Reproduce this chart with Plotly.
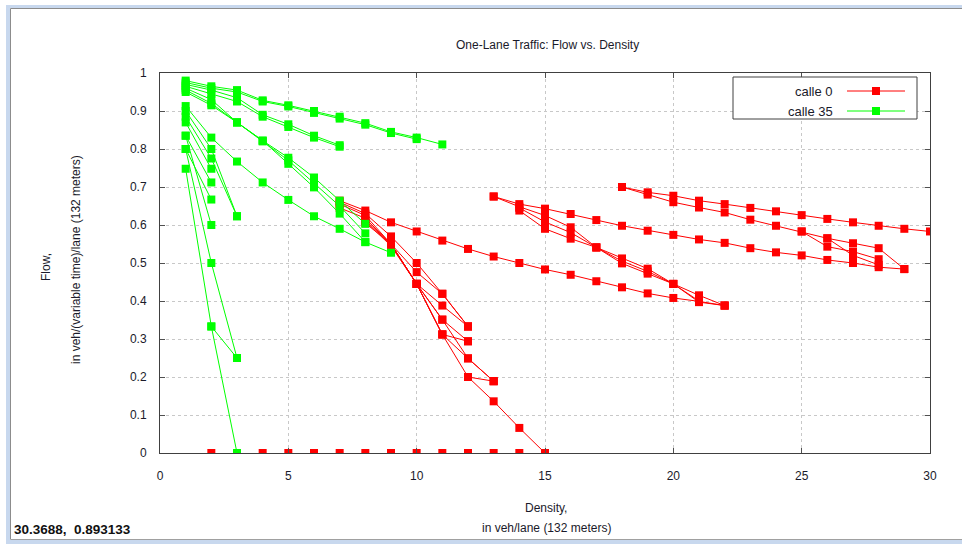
import plotly.graph_objects as go

# ---------------- data ----------------
# each path: consecutive integer densities starting at "start"
calle0_starts = [7, 7, 7, 7, 8, 8, 8, 9, 9, 13, 13, 14, 14, 18, 18, 25, 26, 12]
calle0_flows = [
    [0.664, 0.638, 0.607, 0.583, 0.559, 0.537, 0.517, 0.50, 0.483, 0.469, 0.452, 0.436, 0.42, 0.408, 0.399, 0.388],
    [0.66, 0.63, 0.57, 0.50, 0.419, 0.333],
    [0.655, 0.625, 0.55, 0.476, 0.419, 0.333],
    [0.645, 0.618, 0.549, 0.445, 0.388, 0.333],
    [0.612, 0.55, 0.445, 0.351, 0.294],
    [0.61, 0.545, 0.445, 0.351, 0.249, 0.189],
    [0.605, 0.55, 0.445, 0.312, 0.294],
    [0.549, 0.445, 0.312, 0.249, 0.189],
    [0.55, 0.445, 0.312, 0.20, 0.136, 0.066, 0.0],
    [0.675, 0.655, 0.643, 0.629, 0.613, 0.598, 0.585, 0.574, 0.562, 0.553, 0.539, 0.528, 0.52, 0.508, 0.50, 0.489, 0.484],
    [0.675, 0.648, 0.625, 0.594, 0.541, 0.512, 0.485, 0.445, 0.415, 0.388],
    [0.645, 0.608, 0.58, 0.541, 0.499, 0.472, 0.445, 0.397, 0.388],
    [0.638, 0.59, 0.564, 0.541, 0.505, 0.478, 0.445, 0.40],
    [0.70, 0.686, 0.677, 0.664, 0.655, 0.645, 0.636, 0.626, 0.616, 0.607, 0.598, 0.59, 0.583],
    [0.70, 0.68, 0.66, 0.646, 0.633, 0.614, 0.598, 0.583, 0.565, 0.552, 0.539, 0.484],
    [0.583, 0.543, 0.53, 0.51],
    [0.565, 0.52, 0.495],
    [0.20, 0.189],
]
calle0_zero_density = [2, 3, 4, 5, 6, 7, 8, 9, 10, 11, 12, 13, 14]
calle0_zero_flow = [0, 0, 0, 0, 0, 0, 0, 0, 0, 0, 0, 0, 0]

calle35_starts = [1, 1, 1, 1, 1, 1, 1, 1, 1, 1, 1, 1, 1, 1, 1, 1, 2]
calle35_flows = [
    [0.98, 0.965, 0.955, 0.928, 0.915, 0.90, 0.885, 0.868, 0.845, 0.83, 0.812],
    [0.975, 0.96, 0.95, 0.925, 0.912, 0.895, 0.88, 0.864, 0.842, 0.826],
    [0.97, 0.955, 0.935, 0.89, 0.865, 0.835, 0.81],
    [0.965, 0.945, 0.925, 0.885, 0.858, 0.83, 0.806],
    [0.955, 0.92, 0.87, 0.822, 0.777, 0.725, 0.664, 0.603],
    [0.95, 0.915, 0.87, 0.82, 0.77, 0.71, 0.65, 0.578],
    [0.96, 0.93, 0.87, 0.822, 0.761, 0.699, 0.63, 0.555],
    [0.913, 0.83, 0.767, 0.712, 0.666, 0.623, 0.59, 0.555, 0.527],
    [0.90, 0.80, 0.623],
    [0.885, 0.775, 0.623],
    [0.87, 0.748],
    [0.835, 0.712],
    [0.80, 0.667],
    [0.835, 0.60],
    [0.80, 0.50, 0.25],
    [0.748, 0.333, 0.0],
    [0.333, 0.25],
]

x_ticks = [0, 5, 10, 15, 20, 25, 30]
y_ticks = [0, 0.1, 0.2, 0.3, 0.4, 0.5, 0.6, 0.7, 0.8, 0.9, 1]
y_tick_labels = ["0", "0.1", "0.2", "0.3", "0.4", "0.5", "0.6", "0.7", "0.8", "0.9", "1"]

RED = "#ff0000"
GREEN = "#00ff00"
FONT = "Liberation Sans, Arial, sans-serif"
TXT = "#1a1a2a"


def build(starts, flows):
    xs, ys = [], []
    for s, f in zip(starts, flows):
        xs += [s + i for i in range(len(f))] + [None]
        ys += list(f) + [None]
    return xs, ys


x0, y0 = build(calle0_starts, calle0_flows)
for d, f in zip(calle0_zero_density, calle0_zero_flow):
    x0 += [d, None]
    y0 += [f, None]
x35, y35 = build(calle35_starts, calle35_flows)

fig = go.Figure()
fig.add_trace(go.Scatter(x=x0, y=y0, mode="lines+markers", name="calle 0",
                         line=dict(color=RED, width=1),
                         marker=dict(symbol="square", size=8, color=RED),
                         connectgaps=False, showlegend=False))
fig.add_trace(go.Scatter(x=x35, y=y35, mode="lines+markers", name="calle 35",
                         line=dict(color=GREEN, width=1),
                         marker=dict(symbol="square", size=8, color=GREEN),
                         connectgaps=False, showlegend=False))

# plot area in pixels
L, R, T, B = 160, 930, 73, 453
W, H = 962, 544


def px(x):
    return (x - L) / (R - L)


def py(y):
    return (B - y) / (B - T)


axis_common = dict(showline=True, linecolor="#404040", linewidth=1, mirror="allticks",
                   ticks="inside", ticklen=5, tickcolor="#505050", tickwidth=1,
                   showgrid=True, gridcolor="#c8c8c8", gridwidth=1, griddash="3px,3px",
                   zeroline=False, tickfont=dict(family=FONT, size=12, color=TXT))

fig.update_xaxes(range=[0, 30], tickvals=x_ticks, ticklabelstandoff=12, **axis_common)
fig.update_yaxes(range=[0, 1], tickvals=y_ticks, ticktext=y_tick_labels,
                 ticklabelstandoff=10, **axis_common)

annotations = [
    dict(text="One-Lane Traffic: Flow vs. Density", x=px(547), y=py(45)),
    dict(text="Density,", x=px(546), y=py(508)),
    dict(text="in veh/lane (132 meters)", x=px(546), y=py(528)),
    dict(text="Flow,", x=px(46), y=py(267), textangle=-90),
    dict(text="in veh/(variable time)/lane (132 meters)", x=px(76), y=py(260), textangle=-90),
]
ann = []
for a in annotations:
    a.update(xref="paper", yref="paper", showarrow=False, xanchor="center", yanchor="middle",
             font=dict(family=FONT, size=12, color=TXT))
    ann.append(a)
# status line
ann.append(dict(text="<b>30.3688,  0.893133</b>", x=px(12), y=py(529), xref="paper", yref="paper",
                showarrow=False, xanchor="left", yanchor="middle",
                font=dict(family=FONT, size=13.5, color="#111111")))
# legend texts
ann.append(dict(text="calle 0", x=px(835), y=py(91), xref="paper", yref="paper", showarrow=False,
                xanchor="right", yanchor="middle", font=dict(family=FONT, size=13, color=TXT)))
ann.append(dict(text="calle 35", x=px(835), y=py(111), xref="paper", yref="paper", showarrow=False,
                xanchor="right", yanchor="middle", font=dict(family=FONT, size=13, color=TXT)))

shapes = []
# window frame
shapes.append(dict(type="rect", xref="paper", yref="paper", x0=px(6), x1=px(W), y0=py(5), y1=py(8),
                   fillcolor="#c8d8ee", line=dict(width=0), layer="above"))
shapes.append(dict(type="rect", xref="paper", yref="paper", x0=px(6), x1=px(10), y0=py(5), y1=py(H),
                   fillcolor="#c8d8ee", line=dict(width=0), layer="above"))
shapes.append(dict(type="rect", xref="paper", yref="paper", x0=px(6), x1=px(W), y0=py(540), y1=py(H),
                   fillcolor="#c8d8ee", line=dict(width=0), layer="above"))
shapes.append(dict(type="line", xref="paper", yref="paper", x0=px(10.5), x1=px(W), y0=py(8.5), y1=py(8.5),
                   line=dict(color="#8c8c8c", width=1), layer="above"))
shapes.append(dict(type="line", xref="paper", yref="paper", x0=px(10.5), x1=px(10.5), y0=py(8.5), y1=py(539.5),
                   line=dict(color="#8c8c8c", width=1), layer="above"))
shapes.append(dict(type="line", xref="paper", yref="paper", x0=px(10.5), x1=px(W), y0=py(539.5), y1=py(539.5),
                   line=dict(color="#a0a0a0", width=1), layer="above"))
# legend box
shapes.append(dict(type="rect", xref="paper", yref="paper", x0=px(733), x1=px(917), y0=py(77), y1=py(119),
                   fillcolor="white", line=dict(color="#404040", width=1), layer="above"))
for yy, col in [(91, RED), (111, GREEN)]:
    shapes.append(dict(type="line", xref="paper", yref="paper", x0=px(847), x1=px(905), y0=py(yy), y1=py(yy),
                       line=dict(color=col, width=1), layer="above"))
    shapes.append(dict(type="rect", xref="paper", yref="paper", x0=px(872), x1=px(880), y0=py(yy - 4), y1=py(yy + 4),
                       fillcolor=col, line=dict(width=0), layer="above"))

fig.update_layout(width=W, height=H, margin=dict(l=L, r=W - R, t=T, b=H - B, pad=0),
                  paper_bgcolor="white", plot_bgcolor="white",
                  annotations=ann, shapes=shapes, showlegend=False)

fig.write_html("out.html", config={"displayModeBar": False},
               post_script="document.body.style.margin='0';document.body.style.overflow='hidden';")
